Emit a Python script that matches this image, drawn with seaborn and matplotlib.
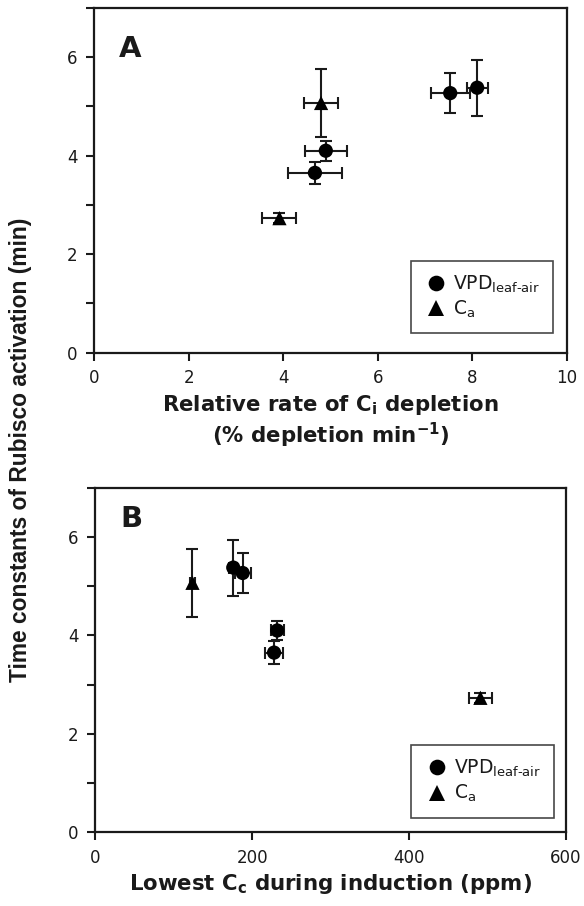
import numpy as np
import pandas as pd
import matplotlib
matplotlib.use("Agg")
import matplotlib.pyplot as plt
from matplotlib.ticker import MultipleLocator
import seaborn as sns

# Treatment groups
treatment = ["VPD", "VPD", "VPD", "VPD", "Ca", "Ca"]
# Relative rate of Ci depletion (% depletion min-1) and SE
ci_rate = [4.67, 4.90, 7.53, 8.10, 3.92, 4.80]
ci_rate_se = [0.57, 0.45, 0.41, 0.22, 0.36, 0.36]
# Lowest Cc during induction (ppm) and SE
cc_min = [228, 232, 188, 176, 491, 124]
cc_min_se = [11, 8.5, 10, 5, 14.5, 3]
# Time constant of Rubisco activation (min) and SE
tau = [3.65, 4.10, 5.27, 5.38, 2.73, 5.07]
tau_se = [0.23, 0.20, 0.40, 0.57, 0.10, 0.69]

df = pd.DataFrame({
    "treatment": treatment,
    "ci_rate": ci_rate, "ci_rate_se": ci_rate_se,
    "cc_min": cc_min, "cc_min_se": cc_min_se,
    "tau": tau, "tau_se": tau_se,
})

legend_labels = {"VPD": r"VPD$_{\mathregular{leaf\text{-}air}}$",
                 "Ca": r"C$_{\mathregular{a}}$"}
markers = {"VPD": "o", "Ca": "^"}

sns.set_theme(style="white")
plt.rcParams["font.family"] = ["DejaVu Sans"]
plt.rcParams["mathtext.fontset"] = "dejavusans"

ink = "#1a1a1a"
fig = plt.figure(figsize=(5.84, 9.06), dpi=100)
axA = fig.add_axes([0.161, 0.6109, 0.810, 0.3803])
axB = fig.add_axes([0.163, 0.0817, 0.806, 0.3797])


def draw_panel(ax, xcol, xerr_col, xlim, xstep, letter, letter_y, xlabel,
               leg_anchor):
    for t in ["VPD", "Ca"]:
        sub = df[df.treatment == t]
        ax.errorbar(sub[xcol], sub["tau"], xerr=sub[xerr_col], yerr=sub["tau_se"],
                    fmt="none", ecolor=ink, elinewidth=1.5, capsize=4.5,
                    capthick=1.5, zorder=2)
    sns.scatterplot(data=df, x=xcol, y="tau", style="treatment",
                    hue="treatment", palette={"VPD": "black", "Ca": "black"},
                    markers=markers, style_order=["VPD", "Ca"],
                    hue_order=["VPD", "Ca"], s=105, edgecolor="black",
                    linewidth=0, ax=ax, zorder=3)
    ax.set_xlim(*xlim)
    ax.set_ylim(0, 7)
    ax.xaxis.set_major_locator(MultipleLocator(xstep))
    ax.yaxis.set_major_locator(MultipleLocator(2))
    ax.yaxis.set_minor_locator(MultipleLocator(1))
    ax.tick_params(which="both", direction="out", length=6, width=1.5,
                   color=ink, labelsize=12, labelcolor=ink, pad=6,
                   left=True, bottom=True)
    for sp in ax.spines.values():
        sp.set_linewidth(1.6)
        sp.set_color(ink)
    ax.set_ylabel("")
    ax.set_xlabel(xlabel, fontsize=15.3, fontweight="bold", color=ink,
                  labelpad=4, linespacing=1.2)
    ax.text(0.076, letter_y, letter, transform=ax.transAxes, fontsize=21,
            fontweight="bold", color=ink, va="center", ha="center")
    handles, labels = ax.get_legend_handles_labels()
    order = [labels.index(k) for k in ["VPD", "Ca"]]
    leg = ax.legend([handles[i] for i in order],
                    [legend_labels[labels[i]] for i in order],
                    loc="lower right", bbox_to_anchor=leg_anchor,
                    borderaxespad=0, frameon=True, fancybox=False,
                    fontsize=13.5, handletextpad=0.25, handlelength=1.3,
                    borderpad=0.7, labelspacing=0.2, markerscale=1.1)
    leg.get_frame().set_edgecolor(ink)
    leg.get_frame().set_linewidth(1.2)
    for txt in leg.get_texts():
        txt.set_color(ink)


draw_panel(axA, "ci_rate", "ci_rate_se", (0, 10), 2, "A", 0.881,
           "Relative rate of C$_{\\mathregular{i}}$ depletion\n"
           "(% depletion min$^{\\mathregular{-1}}$)",
           (0.971, 0.056))
draw_panel(axB, "cc_min", "cc_min_se", (0, 600), 200, "B", 0.910,
           "Lowest C$_{\\mathregular{c}}$ during induction (ppm)",
           (0.9745, 0.042))

fig.text(0.035, 0.504, "Time constants of Rubisco activation (min)",
         rotation=90, ha="center", va="center", fontsize=16.4,
         fontweight="bold", color=ink, family=["Liberation Sans", "DejaVu Sans"])

fig.savefig("out.png", dpi=100)
